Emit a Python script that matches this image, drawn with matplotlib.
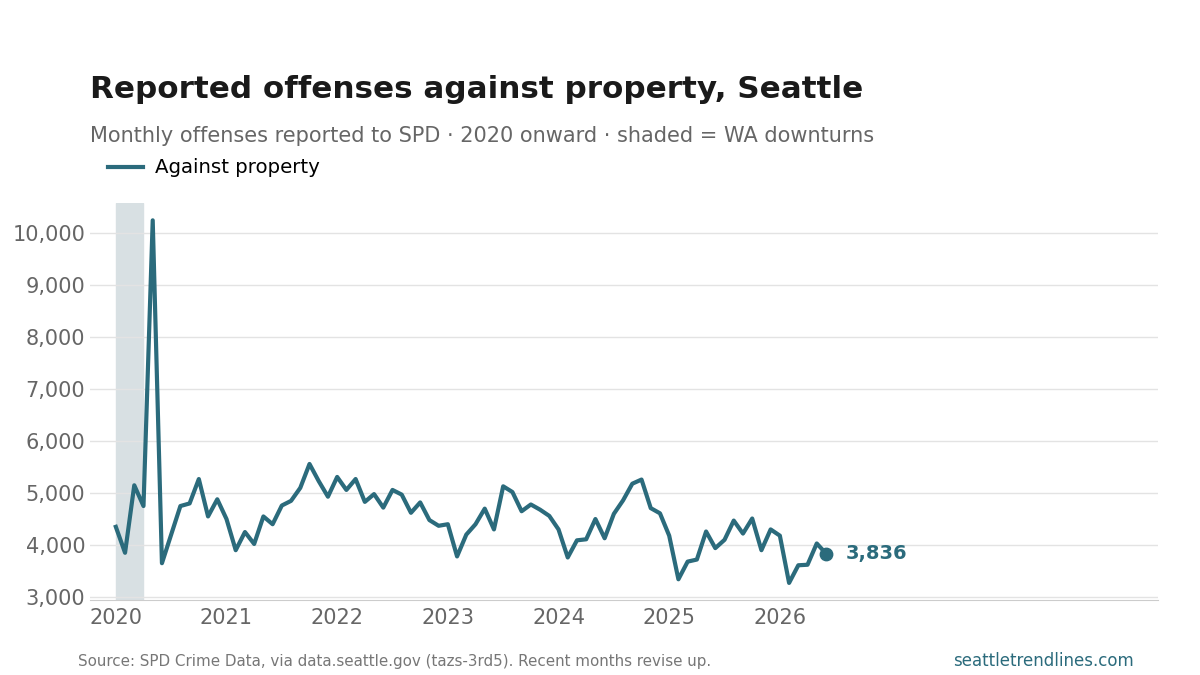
import matplotlib.pyplot as plt
import numpy as np

plt.rcParams['font.family'] = ['DejaVu Sans']

values = [
    4350, 3850, 5150, 4750, 10250, 3650, 4200, 4750, 4800, 5270, 4550, 4880,
    4500, 3900, 4250, 4020, 4550, 4400, 4760, 4850, 5100, 5560, 5230, 4930,
    5310, 5060, 5270, 4830, 4980, 4720, 5060, 4970, 4620, 4820, 4480, 4370,
    4400, 3780, 4200, 4400, 4700, 4300, 5130, 5020, 4650, 4780, 4680, 4560,
    4300, 3760, 4090, 4110, 4500, 4130, 4600, 4860, 5180, 5260, 4710, 4610,
    4180, 3340, 3680, 3720, 4260, 3940, 4100, 4470, 4220, 4510, 3900, 4300,
    4180, 3270, 3610, 3620, 4030, 3836,
]
years = ['2020', '2021', '2022', '2023', '2024', '2025', '2026']
downturn = (0, 3)  # months since Jan 2020

color = '#2b6b7c'
months = np.arange(len(values))

fig = plt.figure(figsize=(12, 6.75), dpi=100)
ax = fig.add_axes([0.075, 0.111, 0.89, 0.588])

ax.axvspan(*downturn, color='#d8e0e3', zorder=0)
ax.plot(months, values, color=color, lw=3, label='Against property', zorder=3)
ax.scatter(months[-1], values[-1], color=color, s=80, zorder=4)
ax.annotate(f'{values[-1]:,}', (months[-1], values[-1]), xytext=(14, 0),
            textcoords='offset points', va='center', ha='left',
            fontsize=14, fontweight='bold', color=color)

ax.set_xlim(-2.8, 113.0)
ax.set_ylim(2940, 10580)
ax.set_xticks(np.arange(len(years)) * 12)
ax.set_xticklabels(years)
ax.set_yticks(range(3000, 10001, 1000))
ax.yaxis.set_major_formatter(plt.FuncFormatter(lambda v, p: f'{int(v):,}'))
ax.grid(axis='y', color='#e3e3e3', lw=1)
ax.set_axisbelow(True)
for s in ['top', 'right', 'left']:
    ax.spines[s].set_visible(False)
ax.spines['bottom'].set_color('#cccccc')
ax.tick_params(length=0, labelsize=15, labelcolor='#666666')
ax.tick_params(axis='x', pad=6)

ax.legend(loc='lower left', bbox_to_anchor=(0.0, 1.02), frameon=False, fontsize=14.2,
          handlelength=1.8, handletextpad=0.6)

fig.text(0.075, 0.855, 'Reported offenses against property, Seattle', fontsize=22.3,
         fontweight='bold', color='#1a1a1a')
fig.text(0.075, 0.79, 'Monthly offenses reported to SPD · 2020 onward · shaded = WA downturns',
         fontsize=15, color='#666666')
fig.text(0.065, 0.014, 'Source: SPD Crime Data, via data.seattle.gov (tazs-3rd5). Recent months revise up.',
         fontsize=10.9, color='#777777')
fig.text(0.945, 0.014, 'seattletrendlines.com', fontsize=12, color=color, ha='right')

fig.savefig('out.png')
